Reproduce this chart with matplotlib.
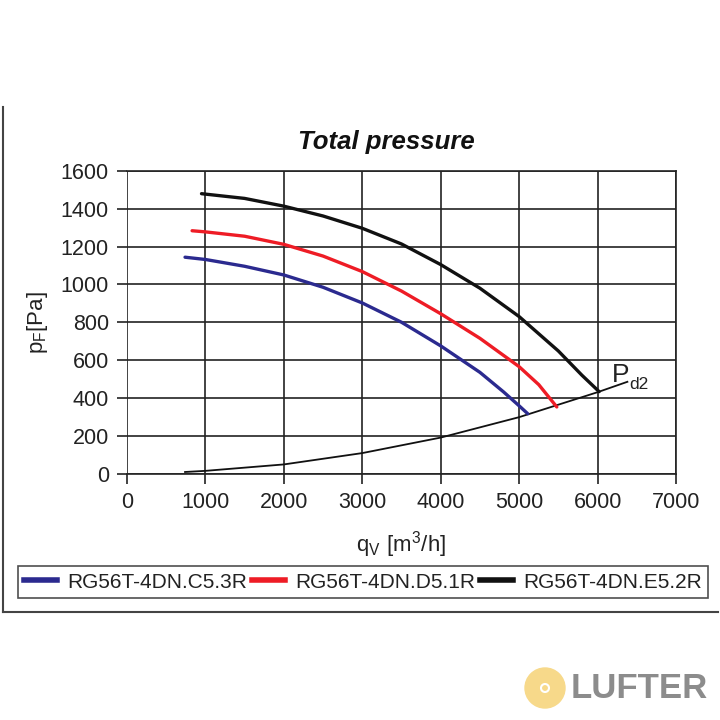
# Total pressure curves for three RG56T fans, with the Pd2 dynamic pressure line

import matplotlib
matplotlib.use("Agg")
import matplotlib.pyplot as plt
from matplotlib.lines import Line2D
from matplotlib.patches import Circle

plt.rcParams["font.family"] = ["Liberation Sans", "DejaVu Sans"]
plt.rcParams["mathtext.fontset"] = "custom"
plt.rcParams["mathtext.rm"] = "Liberation Sans"

# Data (q in m3/h, p in Pa)
c53_q = [740, 1000, 1500, 2000, 2500, 3000, 3500, 4000, 4500, 4800, 5000, 5110]
c53_p = [1144, 1132, 1096, 1050, 985, 902, 800, 675, 535, 432, 358, 316]

d51_q = [830, 1000, 1500, 2000, 2500, 3000, 3500, 4000, 4500, 5000, 5250, 5480]
d51_p = [1284, 1278, 1255, 1212, 1150, 1068, 965, 845, 715, 565, 470, 352]

e52_q = [950, 1500, 2000, 2500, 3000, 3500, 4000, 4500, 5000, 5500, 5800, 6020]
e52_p = [1480, 1455, 1414, 1362, 1297, 1214, 1105, 980, 830, 648, 520, 433]

pd2_q = [740, 1000, 2000, 3000, 4000, 5000, 6000, 6380]
pd2_p = [8, 14, 48, 108, 190, 298, 430, 485]

labels = ["RG56T-4DN.C5.3R", "RG56T-4DN.D5.1R", "RG56T-4DN.E5.2R"]
colors = ["#2b2a8f", "#ee1c25", "#111111"]

fig = plt.figure(figsize=(7.2, 7.2), dpi=100)
ax = fig.add_axes([127 / 720, 1 - 473.5 / 720, 549 / 720, 302.5 / 720])

for q, p, c in zip([c53_q, d51_q, e52_q], [c53_p, d51_p, e52_p], colors):
    ax.plot(q, p, color=c, lw=2.4, solid_capstyle="round",
            solid_joinstyle="round", zorder=3)
ax.plot(pd2_q, pd2_p, color="#111111", lw=1.3, zorder=2)

ax.set_xlim(0, 7000)
ax.set_ylim(0, 1600)
ax.set_xticks(range(0, 7001, 1000))
ax.set_yticks(range(0, 1601, 200))
ax.grid(True, color="#222222", lw=1.2)
ax.set_axisbelow(True)
for side in ["top", "right", "bottom"]:
    ax.spines[side].set_color("#222222")
    ax.spines[side].set_linewidth(1.2)
ax.spines["left"].set_visible(False)
ax.tick_params(direction="out", length=7, width=1.2, color="#222222",
               labelsize=15.5, labelcolor="#222222", pad=6)

ax.set_title("Total pressure", fontsize=18.5, fontweight="bold", style="italic",
             color="#111111", pad=16, x=0.472)
ax.set_xlabel(r"$\mathregular{q_V\ [m^3/h]}$", fontsize=16, color="#222222", labelpad=12)
ax.set_ylabel(r"$\mathregular{p_F[Pa]}$", fontsize=16, color="#222222", labelpad=8)

# Pd2 label
ax.text(6186, 484, "P", fontsize=19, color="#222222")
ax.text(6400, 447, "d2", fontsize=12.5, color="#222222")

handles = [Line2D([], [], color=c, lw=4) for c in colors]
leg = fig.legend(handles, labels, loc="center", bbox_to_anchor=(363 / 720, 1 - 582 / 720),
                 ncol=3, fontsize=15, frameon=True, fancybox=False, handlelength=1.6,
                 handletextpad=0.5, columnspacing=0.2, borderpad=0.3, labelcolor="#222222")
leg.get_frame().set_edgecolor("#222222")
leg.get_frame().set_linewidth(1.2)

# outer frame lines
fig.add_artist(Line2D([3 / 720, 3 / 720], [1 - 107 / 720, 1 - 612 / 720],
                      color="#444444", lw=1.5, transform=fig.transFigure))
fig.add_artist(Line2D([3 / 720, 718 / 720], [1 - 612 / 720, 1 - 612 / 720],
                      color="#444444", lw=1.5, transform=fig.transFigure))

# watermark logo
fig.add_artist(Circle((545 / 720, 1 - 688 / 720), 20 / 720, color="#f7d98a",
                      transform=fig.transFigure))
fig.add_artist(Circle((545 / 720, 1 - 688 / 720), 4 / 720, facecolor="none",
                      edgecolor="white", lw=1.5, transform=fig.transFigure))
fig.text(571 / 720, 1 - 688 / 720, "LUFTER", fontsize=25, fontweight="bold",
         color="#8c8c8c", va="center", ha="left")

fig.savefig("out.png", dpi=100)
